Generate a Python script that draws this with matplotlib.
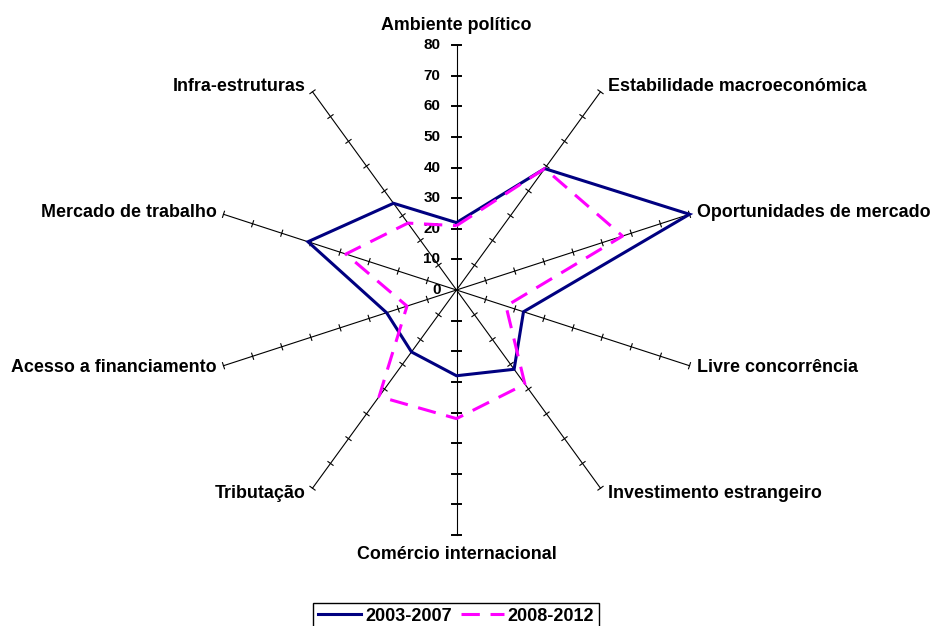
import numpy as np
import matplotlib
matplotlib.use("Agg")
import matplotlib.pyplot as plt

# -------------------------
# DADOS
# -------------------------
categorias = [
    "Ambiente político",
    "Estabilidade macroeconómica",
    "Oportunidades de mercado",
    "Livre concorrência",
    "Investimento estrangeiro",
    "Comércio internacional",
    "Tributação",
    "Acesso a financiamento",
    "Mercado de trabalho",
    "Infra-estruturas",
]
serie_2003 = [22, 49, 80, 23, 32, 28, 25, 24, 51, 35]
serie_2008 = [21, 49, 57, 17, 38, 42, 43, 17, 38, 27]
nomes_series = ["2003-2007", "2008-2012"]
escala = [0, 10, 20, 30, 40, 50, 60, 70, 80]

# -------------------------
# FIGURA
# -------------------------
plt.rcParams["font.family"] = ["Liberation Sans", "DejaVu Sans"]
plt.rcParams["font.weight"] = "bold"

W, H = 932, 626
fig = plt.figure(figsize=(W / 100, H / 100), dpi=100)
ax = fig.add_axes([0, 0, 1, 1])

rmax = escala[-1]
px = 245 / rmax          # pixeis por unidade
cx, cy = 456.5, 290      # centro em pixeis (a partir do topo)
ax.set_xlim(-cx / px, (W - cx) / px)
ax.set_ylim(-(H - cy) / px, cy / px)
ax.axis("off")

n = len(categorias)
ang = np.radians(np.arange(n) * 360 / n)
sx, sy = np.sin(ang), np.cos(ang)

# eixos (raios) e marcas
for i in range(n):
    ax.plot([0, rmax * sx[i]], [0, rmax * sy[i]], color="black", lw=0.8, zorder=1)
    vertical = abs(sx[i]) < 0.01
    t = (4.5 if vertical else 3.2) / px
    for v in escala[1:]:
        x0, y0 = v * sx[i], v * sy[i]
        ax.plot([x0 - t * sy[i], x0 + t * sy[i]], [y0 + t * sx[i], y0 - t * sx[i]],
                color="black", lw=1.4 if vertical else 0.8, zorder=1)

# valores no eixo vertical
for v in escala:
    ax.text(-16 / px, v, str(v), ha="right", va="center", fontsize=11,
            fontweight="bold")

# nomes das categorias
fs = 12.9
for i, nome in enumerate(categorias):
    xe, ye = rmax * sx[i], rmax * sy[i]
    if abs(sx[i]) < 0.01:
        if sy[i] > 0:
            ax.text(xe, ye + 11 / px, nome, ha="center", va="bottom",
                    fontsize=fs, fontweight="bold")
        else:
            ax.text(xe, ye - 11 / px, nome, ha="center", va="top",
                    fontsize=fs, fontweight="bold")
    else:
        ha = "left" if sx[i] > 0 else "right"
        ax.text(xe + np.sign(sx[i]) * 7 / px, ye + 7 * sy[i] / px, nome,
                ha=ha, va="center", fontsize=fs, fontweight="bold")

# series
def fechar(vals):
    v = np.array(vals + vals[:1], dtype=float)
    a = np.append(ang, ang[0])
    return v * np.sin(a), v * np.cos(a)

x1, y1 = fechar(serie_2003)
x2, y2 = fechar(serie_2008)
l1, = ax.plot(x1, y1, color="#000080", lw=2.2, zorder=3,
              solid_joinstyle="miter", label=nomes_series[0])
l2, = ax.plot(x2, y2, color="#FF00FF", lw=2.2, zorder=4,
              dashes=(6, 3.5), label=nomes_series[1])

leg = fig.legend(handles=[l1, l2], loc="upper center", ncol=2,
                 bbox_to_anchor=(456 / W, 1 - 603 / H), bbox_transform=fig.transFigure,
                 borderaxespad=0, fancybox=False, framealpha=1, edgecolor="black",
                 prop={"size": 13, "weight": "bold"}, handlelength=2.4,
                 handletextpad=0.2, columnspacing=0.5, borderpad=0.25)
leg.get_frame().set_linewidth(1.0)

fig.savefig("out.png", dpi=100)
